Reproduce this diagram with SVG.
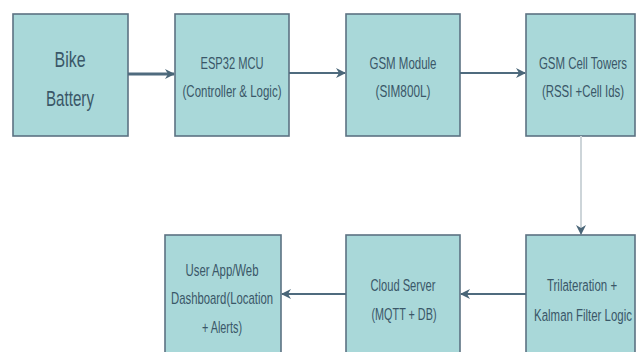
<svg xmlns="http://www.w3.org/2000/svg" width="639" height="352" viewBox="0 0 639 352">
<style>
.box{fill:#a9d8d9;stroke:#5c7282;stroke-width:1.6}
.t{font-family:"Liberation Sans",Arial,sans-serif;fill:#3a5768;text-anchor:middle;font-size:17px}
.b{font-size:22px}
.c{fill:none;stroke:#4f6b7e;stroke-width:2}
.v{stroke:#cdd5d9}
</style>
<defs>
<marker id="ah" markerWidth="10" markerHeight="10" refX="9" refY="5" orient="auto" markerUnits="userSpaceOnUse">
<path d="M0,0 L10,5 L0,10 L3,5 Z" fill="#4a6678"/>
</marker>
</defs>
<rect width="639" height="352" fill="#ffffff"/>
<g id="bike-battery">
<rect class="box" x="13" y="14" width="115" height="122"/>
<text class="t b" x="70" y="67" textLength="31" lengthAdjust="spacingAndGlyphs">Bike</text>
<text class="t b" x="70" y="106" textLength="48" lengthAdjust="spacingAndGlyphs">Battery</text>
</g>
<g id="esp32">
<rect class="box" x="175" y="14" width="114" height="122"/>
<text class="t" x="232" y="69" textLength="63" lengthAdjust="spacingAndGlyphs">ESP32 MCU</text>
<text class="t" x="232" y="97" textLength="99" lengthAdjust="spacingAndGlyphs">(Controller &amp; Logic)</text>
</g>
<g id="gsm-module">
<rect class="box" x="346" y="14" width="114" height="122"/>
<text class="t" x="403" y="69" textLength="67" lengthAdjust="spacingAndGlyphs">GSM Module</text>
<text class="t" x="403" y="97" textLength="55" lengthAdjust="spacingAndGlyphs">(SIM800L)</text>
</g>
<g id="gsm-towers">
<rect class="box" x="526" y="14" width="109" height="122"/>
<text class="t" transform="translate(583,69) scale(0.6,1)" x="0" y="0" textLength="147" lengthAdjust="spacingAndGlyphs">GSM Cell Towers</text>
<text class="t" transform="translate(583,97) scale(0.6,1)" x="0" y="0" textLength="137" lengthAdjust="spacingAndGlyphs">(RSSI +Cell Ids)</text>
</g>
<g id="trilateration">
<rect class="box" x="526" y="235" width="109" height="120"/>
<text class="t" transform="translate(582,291) scale(0.6,1)" x="0" y="0" textLength="117" lengthAdjust="spacingAndGlyphs">Trilateration +</text>
<text class="t" transform="translate(583,321) scale(0.6,1)" x="0" y="0" textLength="163" lengthAdjust="spacingAndGlyphs">Kalman Filter Logic</text>
</g>
<g id="cloud">
<rect class="box" x="346" y="235" width="114" height="120"/>
<text class="t" x="403" y="291" textLength="65" lengthAdjust="spacingAndGlyphs">Cloud Server</text>
<text class="t" x="404" y="320" textLength="65" lengthAdjust="spacingAndGlyphs">(MQTT + DB)</text>
</g>
<g id="user-app">
<rect class="box" x="165" y="235" width="116" height="120"/>
<text class="t" x="222" y="276" textLength="73" lengthAdjust="spacingAndGlyphs">User App/Web</text>
<text class="t" x="222" y="304" textLength="102" lengthAdjust="spacingAndGlyphs">Dashboard(Location</text>
<text class="t" x="222" y="333" textLength="40" lengthAdjust="spacingAndGlyphs">+ Alerts)</text>
</g>
<g id="connectors">
<line class="c" x1="128" y1="74" x2="174" y2="74" stroke-width="3" style="stroke-width:3" marker-end="url(#ah)"/>
<line class="c" x1="289" y1="73" x2="345" y2="73" marker-end="url(#ah)"/>
<line class="c" x1="460" y1="73" x2="525" y2="73" marker-end="url(#ah)"/>
<line class="c v" x1="581" y1="136" x2="581" y2="234" marker-end="url(#ah)"/>
<line class="c" x1="526" y1="294" x2="461" y2="294" marker-end="url(#ah)"/>
<line class="c" x1="346" y1="294" x2="282" y2="294" marker-end="url(#ah)"/>
</g>
</svg>
